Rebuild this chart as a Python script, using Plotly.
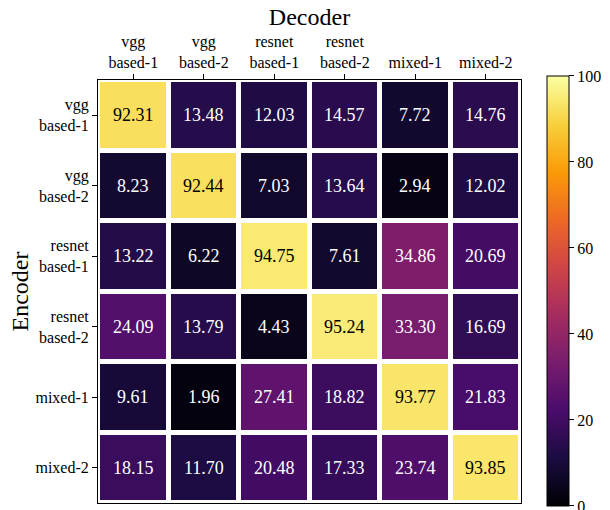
import plotly.graph_objects as go

categories = ["vgg<br>based-1", "vgg<br>based-2", "resnet<br>based-1",
              "resnet<br>based-2", "mixed-1", "mixed-2"]
values = [
    [92.31, 13.48, 12.03, 14.57, 7.72, 14.76],
    [8.23, 92.44, 7.03, 13.64, 2.94, 12.02],
    [13.22, 6.22, 94.75, 7.61, 34.86, 20.69],
    [24.09, 13.79, 4.43, 95.24, 33.30, 16.69],
    [9.61, 1.96, 27.41, 18.82, 93.77, 21.83],
    [18.15, 11.70, 20.48, 17.33, 23.74, 93.85],
]
cb_ticks = [0, 20, 40, 60, 80, 100]

FONT = "Liberation Serif"

fig = go.Figure(go.Heatmap(
    z=values, x=categories, y=categories,
    colorscale="Inferno", zmin=0, zmax=100,
    xgap=5, ygap=5,
    colorbar=dict(
        tickvals=cb_ticks, ticks="outside", ticklen=5, tickcolor="black",
        outlinecolor="black", outlinewidth=1, thickness=22,
        len=430, lenmode="pixels", y=0.5012, yanchor="middle", ypad=0,
        x=1.061, xanchor="left", xpad=0,
        ticklabeloverflow="allow",
        tickfont=dict(family=FONT, size=16, color="black"),
    ),
    hoverinfo="skip",
))

annotations = []
for i, row in enumerate(values):
    for j, v in enumerate(row):
        annotations.append(dict(
            x=categories[j], y=categories[i], xref="x", yref="y",
            text=f"{v:.2f}", showarrow=False,
            font=dict(family=FONT, size=18,
                      color="black" if v > 60 else "white"),
        ))

fig.update_layout(
    width=610, height=510,
    margin=dict(l=98, r=89, t=80, b=7, autoexpand=False),
    paper_bgcolor="white", plot_bgcolor="white",
    font=dict(family=FONT, size=16, color="black"),
    annotations=annotations,
    xaxis=dict(side="top", ticks="outside", ticklen=5, tickcolor="black",
               showline=True, mirror=True, linecolor="black", linewidth=1,
               showgrid=False, zeroline=False, automargin=False,
               tickfont=dict(family=FONT, size=16),
               title=dict(text="Decoder", font=dict(family=FONT, size=24),
                          standoff=0)),
    yaxis=dict(autorange="reversed", ticks="outside", ticklen=5,
               tickcolor="black",
               showline=True, mirror=True, linecolor="black", linewidth=1,
               showgrid=False, zeroline=False, automargin=False,
               tickfont=dict(family=FONT, size=16),
               title=dict(text="Encoder", font=dict(family=FONT, size=24),
                          standoff=0)),
)

fig.write_html("out.html",
               config={"displayModeBar": False},
               post_script="document.body.style.margin='0';")
